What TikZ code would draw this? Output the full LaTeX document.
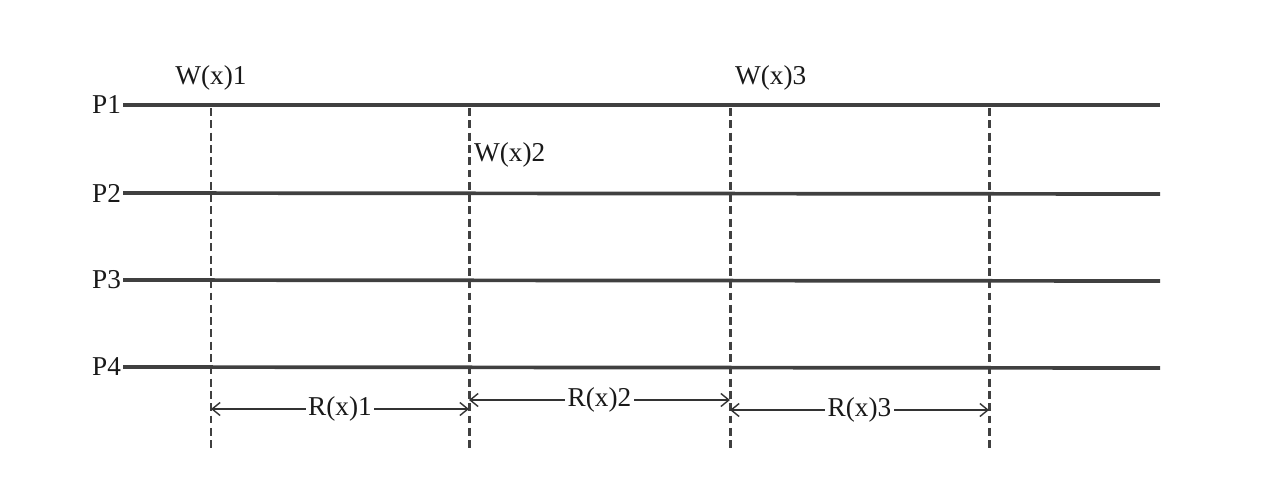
\documentclass[tikz,border=0pt]{standalone}
\usepackage{fontspec}
\setmainfont{Liberation Serif}
\usetikzlibrary{positioning,arrows.meta}

\begin{document}
\begin{tikzpicture}[x=0.2mm,y=-0.2mm]
    \tikzstyle{lbl}=[font=\fontsize{15.5}{18}\selectfont,text=black!90,inner sep=1pt]
    \tikzstyle{proc}=[line width=2.1pt,draw=black!75]
    \tikzstyle{sync}=[line width=1.7pt,draw=black!75,dash pattern=on 4.5pt off 2.5pt]
    \tikzstyle{rd}=[line width=0.8pt,draw=black!80,{Straight Barb[length=1.6mm,width=2.6mm]}-{Straight Barb[length=1.6mm,width=2.6mm]}]
    \useasboundingbox (0,0) rectangle (1278,484);

    % processes
    \node[lbl,anchor=east] (p1) at (123,105) {P1};
    \node[lbl,anchor=east] (p2) at (123,193) {P2};
    \node[lbl,anchor=east] (p3) at (123,280) {P3};
    \node[lbl,anchor=east] (p4) at (123,367) {P4};
    \coordinate (e1) at (1160,105);
    \coordinate (e2) at (1160,194);
    \coordinate (e3) at (1160,281);
    \coordinate (e4) at (1160,368);
    \draw[proc] (p1.east) -- (e1);
    \draw[proc] (p2.east) -- (e2);
    \draw[proc] (p3.east) -- (e3);
    \draw[proc] (p4.east) -- (e4);

    % write points
    \coordinate (t1) at (211,108);
    \coordinate (t2) at (469,108);
    \coordinate (t3) at (730,108);
    \coordinate (t4) at (989,108);
    \coordinate (b1) at (211,452);
    \coordinate (b2) at (469,452);
    \coordinate (b3) at (730,452);
    \coordinate (b4) at (989,452);
    \draw[sync] (t1) -- (b1);
    \draw[sync] (t2) -- (b2);
    \draw[sync] (t3) -- (b3);
    \draw[sync] (t4) -- (b4);
    \node[lbl,above=3.2mm of t1] (w1) {W(x)1};
    \node[lbl,anchor=west] (w2) at (472,155) {W(x)2};
    \node[lbl,anchor=west,above right=3.2mm and 0.6mm of t3] (w3) {W(x)3};

    % reads (below, between write points)
    \coordinate (r1a) at (211,409);
    \coordinate (r1b) at (469,409);
    \coordinate (r2a) at (469,400);
    \coordinate (r2b) at (730,400);
    \coordinate (r3a) at (730,410);
    \coordinate (r3b) at (989,410);
    \draw[rd] (r1a) -- node[lbl,fill=white,inner sep=1.5pt] (rx1) {R(x)1} (r1b);
    \draw[rd] (r2a) -- node[lbl,fill=white,inner sep=1.5pt] (rx2) {R(x)2} (r2b);
    \draw[rd] (r3a) -- node[lbl,fill=white,inner sep=1.5pt] (rx3) {R(x)3} (r3b);
  \end{tikzpicture}
\end{document}
